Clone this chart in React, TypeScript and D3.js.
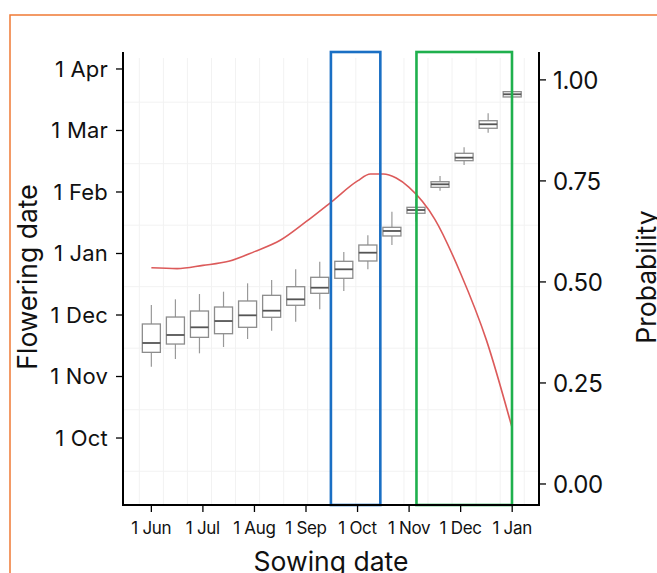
import React from "react";
import * as d3 from "d3";

// Sowing dates in months after 1 Jun (every 14 days)
const sowingMonths = d3.range(16).map((i) => (i * 7) / 15);

// Flowering date boxplots, months after 1 Sep
const whiskerHigh = [3.163, 3.255, 3.341, 3.379, 3.515, 3.569, 3.743, 3.867, 4.024, 4.296, 4.68, 4.886, 5.26, 5.727, 6.28, 6.642];
const q3 = [2.854, 2.967, 3.065, 3.13, 3.228, 3.32, 3.46, 3.613, 3.873, 4.138, 4.426, 4.751, 5.167, 5.629, 6.159, 6.631];
const median = [2.545, 2.675, 2.8, 2.902, 2.995, 3.07, 3.255, 3.444, 3.743, 4.013, 4.366, 4.707, 5.125, 5.558, 6.101, 6.589];
const q1 = [2.393, 2.528, 2.637, 2.696, 2.8, 2.963, 3.158, 3.353, 3.597, 3.878, 4.285, 4.654, 5.076, 5.509, 6.036, 6.545];
const whiskerLow = [2.159, 2.285, 2.377, 2.48, 2.61, 2.745, 2.891, 3.093, 3.39, 3.743, 4.138, 4.517, 5.021, 5.439, 5.964, 6.533];

// Probability curve
const probX = [0, 0.5, 1, 1.5, 2, 2.5, 3, 3.5, 4, 4.25, 4.5, 4.75, 5, 5.5, 6, 6.5, 7];
const probY = [0.535, 0.533, 0.541, 0.551, 0.575, 0.603, 0.649, 0.699, 0.75, 0.767, 0.767, 0.757, 0.734, 0.655, 0.521, 0.356, 0.138];

// Axis ticks
const xTickLabels = ["1 Jun", "1 Jul", "1 Aug", "1 Sep", "1 Oct", "1 Nov", "1 Dec", "1 Jan"];
const yTickLabels = ["1 Oct", "1 Nov", "1 Dec", "1 Jan", "1 Feb", "1 Mar", "1 Apr"]; // months 1..7 after 1 Sep
const probTicks = [0, 0.25, 0.5, 0.75, 1.0];

// Highlight windows (sowing months)
const blueWindow = [3.483, 4.442];
const greenWindow = [5.143, 6.996];

const FONT = "Inter, 'Noto Sans', sans-serif";

export default function App() {
  const left = 123, right = 539, top = 52, bottom = 505;
  const x = d3.scaleLinear().domain([-0.55, 7.52]).range([left, right]);
  const yL = d3.scaleLinear().domain([-0.089, 7.276]).range([bottom, top]);
  const yR = d3.scaleLinear().domain([-0.052, 1.069]).range([bottom, top]);
  const boxHalf = x(0.175) - x(0);

  const line = d3
    .line<number>()
    .x((_, i) => x(probX[i]))
    .y((d) => yR(d))
    .curve(d3.curveMonotoneX);

  const vGrid = d3.range(17).map((i) => (i * 7) / 15 - 7 / 30);
  const hGrid = d3.range(7).map((k) => k + 0.46);

  return (
    <svg width={657} height={573} style={{ position: "absolute", left: 0, top: 0, background: "#fff" }} fontFamily={FONT}>
      <rect x={10} y={15} width={700} height={620} fill="none" stroke="#f07a35" strokeWidth={1.5} />
      {/* grid */}
      {vGrid.map((g, i) => (
        <line key={"v" + i} x1={x(g)} x2={x(g)} y1={top + 6} y2={bottom} stroke="#f2f2f2" strokeWidth={1} />
      ))}
      {hGrid.map((g, i) => (
        <line key={"h" + i} x1={left} x2={right} y1={yL(g)} y2={yL(g)} stroke="#f2f2f2" strokeWidth={1} />
      ))}
      {/* boxplots */}
      {sowingMonths.map((s, i) => {
        const cx = x(s);
        return (
          <g key={"b" + i}>
            <line x1={cx} x2={cx} y1={yL(whiskerHigh[i])} y2={yL(q3[i])} stroke="#999" strokeWidth={1.2} />
            <line x1={cx} x2={cx} y1={yL(q1[i])} y2={yL(whiskerLow[i])} stroke="#999" strokeWidth={1.2} />
            <rect
              x={cx - boxHalf}
              y={yL(q3[i])}
              width={boxHalf * 2}
              height={Math.max(yL(q1[i]) - yL(q3[i]), 1)}
              fill="#fff"
              stroke="#8c8c8c"
              strokeWidth={1.3}
            />
            <line x1={cx - boxHalf} x2={cx + boxHalf} y1={yL(median[i])} y2={yL(median[i])} stroke="#555" strokeWidth={1.8} />
          </g>
        );
      })}
      {/* probability curve */}
      <path d={line(probY) || ""} fill="none" stroke="#dc5a5a" strokeWidth={1.6} />
      {/* windows */}
      <rect x={x(blueWindow[0])} y={top} width={x(blueWindow[1]) - x(blueWindow[0])} height={bottom - top} fill="none" stroke="#1a6fc4" strokeWidth={2.6} />
      <rect x={x(greenWindow[0])} y={top} width={x(greenWindow[1]) - x(greenWindow[0])} height={bottom - top} fill="none" stroke="#1fb04d" strokeWidth={2.6} />
      {/* axes */}
      <line x1={left} x2={left} y1={top} y2={bottom + 1} stroke="#000" strokeWidth={2} />
      <line x1={right} x2={right} y1={top} y2={bottom + 1} stroke="#000" strokeWidth={2} />
      <line x1={left - 1} x2={right + 1} y1={bottom} y2={bottom} stroke="#000" strokeWidth={2} />
      {yTickLabels.map((t, i) => (
        <g key={"yl" + i} transform={`translate(${left},${yL(i + 1)})`}>
          <line x1={-7} x2={0} stroke="#000" strokeWidth={1.3} />
          <text x={-15} dy="0.36em" textAnchor="end" fontSize={22} fill="#111" letterSpacing={0.2}>
            {t}
          </text>
        </g>
      ))}
      {probTicks.map((t, i) => (
        <g key={"yr" + i} transform={`translate(${right},${yR(t)})`}>
          <line x1={0} x2={7} stroke="#000" strokeWidth={1.3} />
          <text x={14} dy="0.36em" textAnchor="start" fontSize={24} fill="#111" letterSpacing={-0.3}>
            {d3.format(".2f")(t)}
          </text>
        </g>
      ))}
      {xTickLabels.map((t, i) => (
        <g key={"x" + i} transform={`translate(${x(i)},${bottom})`}>
          <line y1={0} y2={7} stroke="#000" strokeWidth={1.3} />
          <text y={28.5} textAnchor="middle" fontSize={17} fill="#111" letterSpacing={-0.3}>
            {t}
          </text>
        </g>
      ))}
      <text x={331} y={571} textAnchor="middle" fontSize={26.5} fill="#111">
        Sowing date
      </text>
      <text transform="translate(37,277) rotate(-90)" textAnchor="middle" fontSize={26.5} fill="#111">
        Flowering date
      </text>
      <text transform="translate(656,277) rotate(-90)" textAnchor="middle" fontSize={26.5} fill="#111">
        Probability
      </text>
    </svg>
  );
}
